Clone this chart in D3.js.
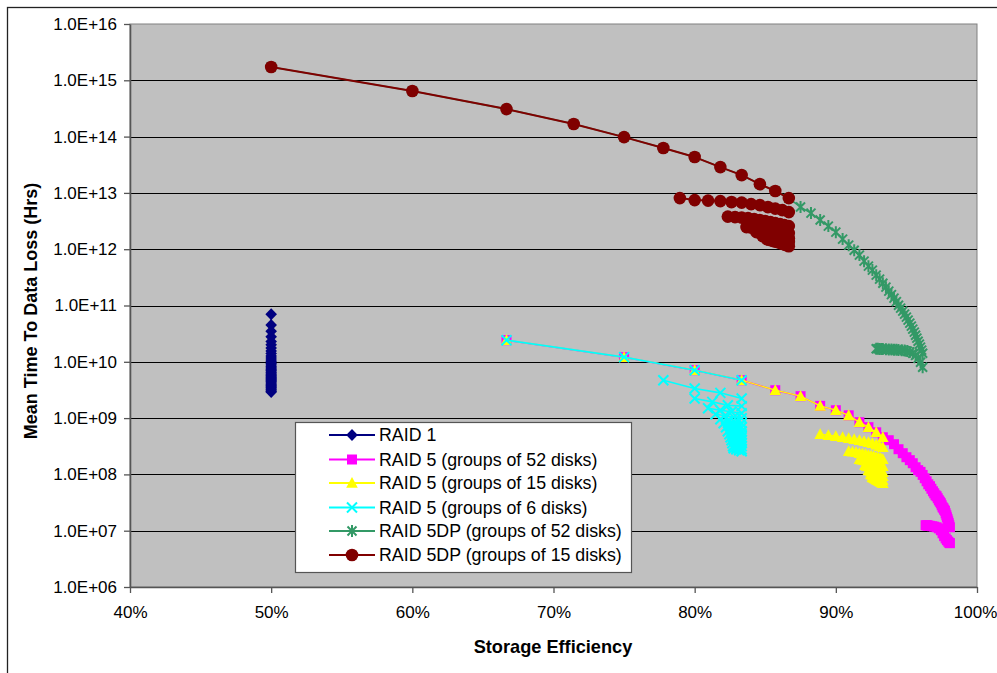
<!DOCTYPE html>
<html><head><meta charset="utf-8">
<script src="https://cdn.jsdelivr.net/npm/d3@7"></script>
<style>
body{margin:0;background:#fff;}
svg{display:block;font-family:"Liberation Sans",Arial,Helvetica,sans-serif;}
</style>
</head><body>
<svg id="c" width="997" height="673"></svg>
<script>
// ---------- DATA ----------
const xTicks = [40, 50, 60, 70, 80, 90, 100];
const yTicks = [1e6, 1e7, 1e8, 1e9, 1e10, 1e11, 1e12, 1e13, 1e14, 1e15, 1e16];
const seriesNames = ["RAID 1", "RAID 5 (groups of 52 disks)", "RAID 5 (groups of 15 disks)",
  "RAID 5 (groups of 6 disks)", "RAID 5DP (groups of 52 disks)", "RAID 5DP (groups of 15 disks)"];

// RAID 1: all at 50% efficiency
const raid1Values = [7.0e10,4.5e10,3.5e10,2.8e10,2.3e10,2.0e10,1.75e10,1.55e10,1.4e10,1.27e10,1.17e10,1.08e10,
  1.0e10,9.3e9,8.75e9,8.2e9,7.8e9,7.4e9,7.0e9,6.6e9,6.3e9,6.0e9,5.7e9,5.4e9,5.2e9,5.0e9,4.8e9,4.6e9,4.4e9,
  4.2e9,4.0e9,3.8e9,3.6e9,3.45e9,3.3e9,3.15e9,3.0e9,2.9e9];

// RAID 5 single-group line (shared by the RAID 5 series)
const r5Main = [[66.67,2.42e10],[75,1.21e10],[80,7.1e9],[83.33,4.71e9],[85.71,3.13e9],[87.5,2.45e9],
  [88.89,1.65e9],[90,1.38e9],[90.91,1.12e9],[91.67,8.45e8],[92.31,6.9e8],[92.86,5.6e8],[93.33,4.57e8]];

// RAID 5, groups of 52
const r5g52Tail = [[93.75,4.05e8],[94.12,3.44e8],[94.44,2.80e8],[94.74,2.38e8],[95,2.02e8],[95.24,1.79e8],
  [95.45,1.58e8],[95.65,1.34e8],[95.83,1.19e8],[96,1.11e8],[96.15,9.8e7],[96.30,8.55e7],[96.43,7.55e7],
  [96.55,6.68e7],[96.67,6.17e7],[96.77,5.56e7],[96.88,5.02e7],[96.97,4.62e7],[97.06,4.26e7],[97.14,4.09e7],
  [97.22,3.77e7],[97.30,3.47e7],[97.37,3.27e7],[97.44,3.07e7],[97.5,2.83e7],[97.56,2.61e7],[97.62,2.51e7],
  [97.67,2.36e7],[97.73,2.26e7],[97.78,2.04e7],[97.83,1.88e7],[97.87,1.73e7],[97.92,1.60e7],[97.96,1.47e7],
  [98,1.36e7],[98.04,1.25e7],[98.08,1.15e7]];
const r5g52Hook = [[96.36,1.25e7],[96.43,1.25e7],[96.49,1.24e7],[96.55,1.23e7],[96.67,1.22e7],[96.83,1.20e7],
  [96.97,1.18e7],[97.14,1.15e7],[97.30,1.10e7],[97.44,1.02e7],[97.56,9.0e6],[97.67,8.0e6],[97.78,7.3e6],
  [97.87,6.8e6],[97.96,6.4e6],[98.04,6.1e6],[98.08,6.0e6]];

// RAID 5, groups of 15 (multi-group rows)
const r5g15Rows = [
  [[88.89,5.17e8],[89.47,4.96e8],[90,4.76e8],[90.48,4.57e8],[90.91,4.39e8],[91.30,4.22e8],[91.67,4.05e8],
   [92,3.88e8],[92.31,3.72e8],[92.59,3.58e8],[92.86,3.37e8],[93.10,3.16e8],[93.33,3.04e8]],
  [[90.91,2.58e8],[91.18,2.53e8],[91.43,2.48e8],[91.67,2.38e8],[91.89,2.33e8],[92.11,2.28e8],[92.31,2.19e8],
   [92.5,2.14e8],[92.68,2.10e8],[92.86,2.02e8],[93.02,1.98e8],[93.18,1.94e8],[93.33,1.86e8]],
  [[91.67,1.86e8],[91.84,1.82e8],[92,1.79e8],[92.16,1.75e8],[92.31,1.71e8],[92.45,1.68e8],[92.59,1.64e8],
   [92.73,1.61e8],[92.86,1.58e8],[92.98,1.54e8],[93.10,1.51e8],[93.22,1.45e8],[93.33,1.40e8]],
  [[92.06,1.45e8],[92.19,1.42e8],[92.31,1.40e8],[92.42,1.37e8],[92.54,1.34e8],[92.65,1.31e8],[92.75,1.29e8],
   [92.86,1.26e8],[92.96,1.24e8],[93.06,1.21e8],[93.15,1.19e8],[93.24,1.14e8],[93.33,1.09e8]],
  [[92.31,1.19e8],[92.41,1.16e8],[92.5,1.14e8],[92.59,1.11e8],[92.68,1.09e8],[92.77,1.07e8],[92.86,1.05e8],
   [92.94,1.03e8],[93.02,1.01e8],[93.10,9.9e7],[93.18,9.66e7],[93.26,9.5e7],[93.33,9.27e7]],
  [[92.47,1.01e8],[92.55,9.9e7],[92.63,9.66e7],[92.71,9.5e7],[92.78,9.27e7],[92.86,9.1e7],[92.93,8.9e7],
   [93,8.7e7],[93.07,8.55e7],[93.14,8.4e7],[93.2,8.2e7],[93.27,8.0e7],[93.33,7.87e7]],
  [[92.59,8.9e7],[92.66,8.7e7],[92.73,8.55e7],[92.79,8.4e7],[92.86,8.2e7],[92.92,8.0e7],[92.98,7.87e7],
   [93.04,7.7e7],[93.10,7.55e7],[93.16,7.4e7],[93.22,7.24e7],[93.28,7.1e7],[93.33,6.96e7]]
];

// RAID 5, groups of 6 (multi-group rows)
const r5g6Rows = [
  [[77.78,4.71e9],[80,3.36e9],[81.82,2.81e9],[83.33,2.23e9]],
  [[80,2.23e9],[81.25,1.94e9],[82.35,1.69e9],[83.33,1.63e9]],
  [[80.95,1.50e9],[81.82,1.38e9],[82.61,1.30e9],[83.33,1.22e9]],
  [[81.48,1.17e9],[82.14,1.10e9],[82.76,1.04e9],[83.33,9.95e8]],
  [[81.82,9.55e8],[82.35,8.98e8],[82.86,8.45e8],[83.33,8.11e8]],
  [[82.05,8.11e8],[82.5,7.62e8],[82.93,7.18e8],[83.33,6.89e8]],
  [[82.22,6.89e8],[82.61,6.47e8],[82.98,6.10e8],[83.33,5.85e8]],
  [[82.35,5.85e8],[82.69,5.61e8],[83.02,5.38e8],[83.33,5.16e8]],
  [[82.46,5.16e8],[82.76,4.96e8],[83.05,4.76e8],[83.33,4.57e8]],
  [[82.54,4.57e8],[82.81,4.39e8],[83.08,4.22e8],[83.33,4.05e8]],
  [[82.61,4.05e8],[82.86,3.88e8],[83.10,3.72e8],[83.33,3.58e8]],
  [[82.67,3.58e8],[82.89,3.44e8],[83.12,3.30e8],[83.33,3.16e8]],
  [[82.72,3.16e8],[82.93,3.04e8],[83.13,2.92e8],[83.33,2.80e8]],
  [[82.76,2.92e8],[82.95,2.80e8],[83.15,2.69e8],[83.33,2.58e8]]
];

// RAID 5DP single-group line (shared by the RAID 5DP series)
const dpMain = [[50,1.72e15],[60,6.44e14],[66.67,3.08e14],[71.43,1.67e14],[75,9.8e13],[77.78,6.26e13],
  [80,4.33e13],[81.82,2.87e13],[83.33,2.07e13],[84.62,1.43e13],[85.71,1.08e13],[86.67,8.09e12]];

// RAID 5DP, groups of 52
const dp52Tail = [[87.5,5.60e12],[88.24,4.38e12],[88.89,3.29e12],[89.47,2.57e12],[90,2.01e12],[90.48,1.51e12],
  [90.91,1.18e12],[91.30,9.6e11],[91.67,7.85e11],[92,6.14e11],[92.31,5.0e11],[92.59,4.25e11],[92.86,3.46e11],
  [93.10,2.94e11],[93.33,2.49e11],[93.55,2.12e11],[93.75,1.80e11],[93.94,1.56e11],[94.12,1.35e11],
  [94.29,1.17e11],[94.44,1.01e11],[94.59,8.97e10],[94.74,7.94e10],[94.87,7.02e10],[95,6.21e10],
  [95.12,5.50e10],[95.24,4.86e10],[95.35,4.30e10],[95.45,3.80e10],[95.56,3.36e10],[95.65,2.97e10],
  [95.74,2.63e10],[95.83,2.32e10],[95.92,2.06e10],[96,1.82e10],[96.08,1.61e10],[96.15,1.42e10]];
const dp52Hook = [[92.86,1.70e10],[92.98,1.70e10],[93.10,1.69e10],[93.22,1.69e10],[93.33,1.68e10],
  [93.55,1.67e10],[93.75,1.66e10],[93.94,1.65e10],[94.12,1.64e10],[94.29,1.63e10],[94.44,1.62e10],
  [94.67,1.60e10],[94.87,1.58e10],[95.06,1.55e10],[95.24,1.50e10],[95.45,1.42e10],[95.65,1.30e10],
  [95.83,1.15e10],[96,9.8e9],[96.15,8.0e9]];

// RAID 5DP, groups of 15 (multi-group rows)
const dp15Rows = [
  [[78.95,8.09e12],[80,7.45e12],[80.95,7.30e12],[81.82,7.15e12],[82.61,6.87e12],[83.33,6.73e12],
   [84,6.33e12],[84.62,6.07e12],[85.19,5.60e12],[85.71,5.26e12],[86.21,4.94e12],[86.67,4.56e12]],
  [[82.35,3.79e12],[82.86,3.72e12],[83.33,3.64e12],[83.78,3.57e12],[84.21,3.43e12],[84.62,3.29e12],
   [85,3.16e12],[85.37,3.03e12],[85.71,2.90e12],[86.05,2.79e12],[86.36,2.68e12],[86.67,2.57e12]],
  [[83.67,2.47e12],[84,2.42e12],[84.31,2.37e12],[84.62,2.32e12],[84.91,2.28e12],[85.19,2.23e12],
   [85.45,2.18e12],[85.71,2.14e12],[85.96,2.10e12],[86.21,2.05e12],[86.44,2.01e12],[86.67,1.93e12]],
  [[84.38,2.01e12],[84.62,1.97e12],[84.85,1.93e12],[85.07,1.89e12],[85.29,1.85e12],[85.51,1.81e12],
   [85.71,1.78e12],[85.92,1.74e12],[86.11,1.71e12],[86.30,1.67e12],[86.49,1.64e12],[86.67,1.57e12]],
  [[84.81,1.71e12],[85,1.67e12],[85.19,1.64e12],[85.37,1.60e12],[85.54,1.57e12],[85.71,1.54e12],
   [85.88,1.51e12],[86.05,1.48e12],[86.21,1.45e12],[86.36,1.42e12],[86.52,1.39e12],[86.67,1.34e12]],
  [[85.11,1.51e12],[85.26,1.47e12],[85.42,1.44e12],[85.57,1.40e12],[85.71,1.37e12],[85.86,1.34e12],
   [86,1.31e12],[86.14,1.27e12],[86.27,1.24e12],[86.41,1.20e12],[86.54,1.17e12],[86.67,1.13e12]]
];

// ---------- SERIES TABLE ----------
const series = [
  {name: seriesNames[0], color: "#000080", marker: "diamond", width: 1.5,
   rows: [raid1Values.map(v => [50, v])]},
  {name: seriesNames[1], color: "#FF00FF", marker: "square", width: 1.5,
   rows: [r5Main.concat(r5g52Tail), r5g52Hook]},
  {name: seriesNames[2], color: "#FFFF00", marker: "triangle", width: 1.3,
   rows: [r5Main].concat(r5g15Rows)},
  {name: seriesNames[3], color: "#00FFFF", marker: "x", width: 1.6,
   rows: [r5Main.slice(0, 4)].concat(r5g6Rows)},
  {name: seriesNames[4], color: "#339966", marker: "star", width: 1.6,
   rows: [dpMain.concat(dp52Tail), dp52Hook]},
  {name: seriesNames[5], color: "#800000", marker: "circle", width: 2,
   rows: [dpMain].concat(dp15Rows)}
];

// ---------- DRAW ----------
const plot = {left: 130, right: 977, top: 24, bottom: 587};
const svg = d3.select("#c");

const x = d3.scaleLinear().domain([40, 100]).range([plot.left, plot.right]);
const y = d3.scaleLog().domain([1e6, 1e16]).range([plot.bottom, plot.top]);

// outer chart border
svg.append("rect").attr("x", 7.5).attr("y", 7.5).attr("width", 1200).attr("height", 1000)
  .attr("fill", "#fff").attr("stroke", "#222").attr("stroke-width", 1.3);

// plot area
svg.append("rect").attr("x", plot.left).attr("y", plot.top)
  .attr("width", plot.right - plot.left).attr("height", plot.bottom - plot.top)
  .attr("fill", "#C0C0C0").attr("stroke", "#808080").attr("stroke-width", 1);

// gridlines
svg.append("g").selectAll("line").data(yTicks.slice(1, -1)).join("line")
  .attr("x1", plot.left).attr("x2", plot.right)
  .attr("y1", d => Math.round(y(d)) + 0.5).attr("y2", d => Math.round(y(d)) + 0.5)
  .attr("stroke", "#000").attr("stroke-width", 1);

// markers
const markerPaths = {
  diamond: "M0,-6L5.8,0L0,6L-5.8,0Z",
  square: "M-5,-5H5V5H-5Z",
  triangle: "M0,-6L5.8,4.8L-5.8,4.8Z",
  x: "M-5,-5L5,5M-5,5L5,-5",
  star: "M-4.5,-4.5L4.5,4.5M-4.5,4.5L4.5,-4.5M0,-6V6",
  circle: "M6.3,0A6.3,6.3 0 1,1 -6.3,0A6.3,6.3 0 1,1 6.3,0Z"
};
function markerAttrs(sel, s) {
  const stroked = (s.marker === "x" || s.marker === "star");
  sel.attr("d", markerPaths[s.marker])
    .attr("fill", stroked ? "none" : s.color)
    .attr("stroke", stroked ? s.color : "none")
    .attr("stroke-width", stroked ? 2 : 0);
}

const line = d3.line().x(d => x(d[0])).y(d => y(d[1]));
const dataG = svg.append("g");
series.forEach(s => {
  const g = dataG.append("g");
  g.selectAll("path.ln").data(s.rows).join("path").attr("class", "ln")
    .attr("d", line).attr("fill", "none").attr("stroke", s.color)
    .attr("stroke-width", s.width).attr("stroke-linejoin", "round");
  const pts = s.rows.flat();
  g.selectAll("path.mk").data(pts).join("path").attr("class", "mk")
    .attr("transform", d => `translate(${x(d[0])},${y(d[1])})`)
    .call(markerAttrs, s);
});

// axes
const fmtY = v => "1.0E+" + String(Math.round(Math.log10(v))).padStart(2, "0");
const yAxis = svg.append("g").attr("transform", `translate(${plot.left},0)`)
  .call(d3.axisLeft(y).tickValues(yTicks).tickFormat(fmtY).tickSize(6).tickSizeOuter(0).tickPadding(7));
const xAxis = svg.append("g").attr("transform", `translate(0,${plot.bottom})`)
  .call(d3.axisBottom(x).tickValues(xTicks).tickFormat(d => d + "%").tickSize(6).tickSizeOuter(0).tickPadding(13));
[yAxis, xAxis].forEach(a => {
  a.select(".domain").attr("stroke", "#555").attr("stroke-width", 1.6);
  a.selectAll(".tick line").attr("stroke", "#555").attr("stroke-width", 1.3);
  a.selectAll(".tick text").attr("font-size", 17).attr("fill", "#000")
    .attr("font-family", '"Liberation Sans", Arial, sans-serif');
});
xAxis.selectAll(".tick text").filter(d => d === 100).attr("dx", -2);

// axis titles
svg.append("text").attr("x", 553).attr("y", 653).attr("text-anchor", "middle")
  .attr("font-size", 18.2).attr("font-weight", "bold").text("Storage Efficiency");
svg.append("text").attr("transform", "translate(37,311) rotate(-90)").attr("text-anchor", "middle")
  .attr("font-size", 18).attr("font-weight", "bold").text("Mean Time To Data Loss (Hrs)");

// legend
const leg = svg.append("g");
leg.append("rect").attr("x", 295.5).attr("y", 422.5).attr("width", 336).attr("height", 150)
  .attr("fill", "#fff").attr("stroke", "#555").attr("stroke-width", 1.2);
const legY = [435, 459.5, 483, 507.5, 531, 555];
series.forEach((s, i) => {
  const gy = legY[i];
  leg.append("line").attr("x1", 329).attr("x2", 375).attr("y1", gy).attr("y2", gy)
    .attr("stroke", s.color).attr("stroke-width", 1.8);
  leg.append("path").attr("transform", `translate(352,${gy})`).call(markerAttrs, s);
  leg.append("text").attr("x", 379).attr("y", gy + 6).attr("font-size", 17.8).text(s.name);
});
</script>
</body></html>
